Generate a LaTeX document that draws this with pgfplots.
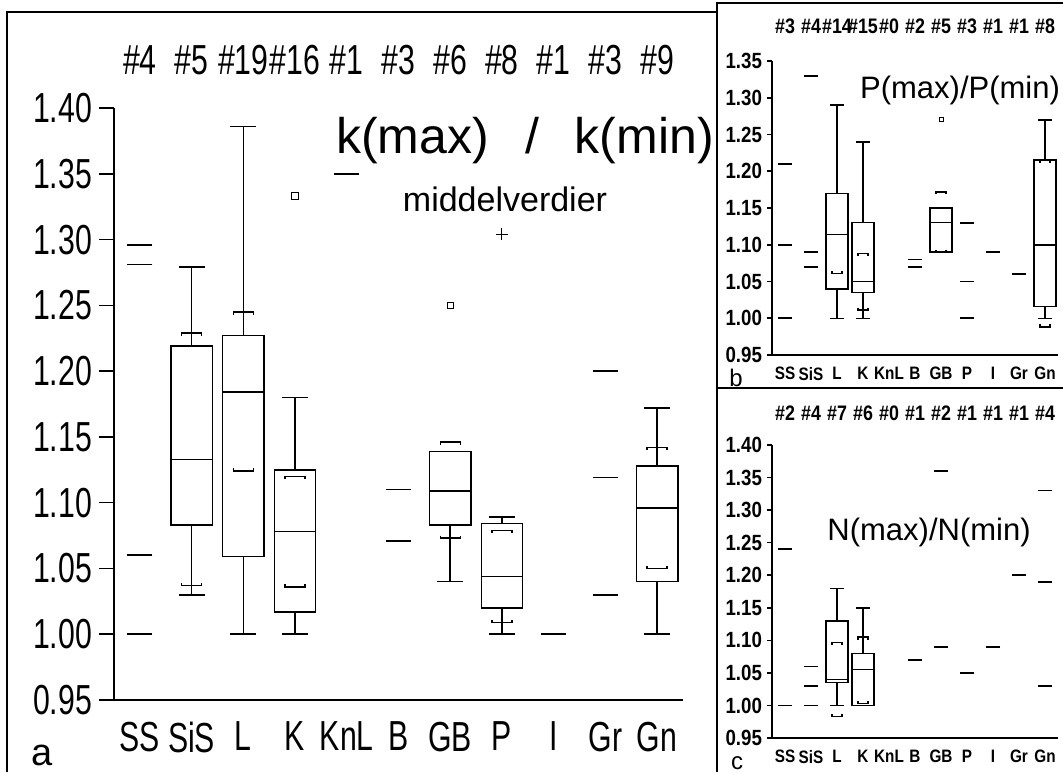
\documentclass[border=0pt]{standalone}
\usepackage{fontspec}
\setmainfont{Liberation Sans}
\newfontfamily\lab{Liberation Sans}[FakeStretch=0.72]
\newfontfamily\labb{Liberation Sans}[FakeStretch=0.85]
\usepackage{pgfplots}
\pgfplotsset{compat=1.18}
\usepgfplotslibrary{statistics}

\pgfdeclareplotmark{bup}{%
  \pgfpathmoveto{\pgfqpoint{-\pgfplotmarksize}{-1.3pt}}%
  \pgfpathlineto{\pgfqpoint{-\pgfplotmarksize}{0pt}}%
  \pgfpathlineto{\pgfqpoint{\pgfplotmarksize}{0pt}}%
  \pgfpathlineto{\pgfqpoint{\pgfplotmarksize}{-1.3pt}}%
  \pgfusepathqstroke}
\pgfdeclareplotmark{bdn}{%
  \pgfpathmoveto{\pgfqpoint{-\pgfplotmarksize}{1.3pt}}%
  \pgfpathlineto{\pgfqpoint{-\pgfplotmarksize}{0pt}}%
  \pgfpathlineto{\pgfqpoint{\pgfplotmarksize}{0pt}}%
  \pgfpathlineto{\pgfqpoint{\pgfplotmarksize}{1.3pt}}%
  \pgfusepathqstroke}

\pgfplotsset{
  panel/.style={
    scale only axis,
    axis x line=bottom, axis y line=left,
    axis line style={-, line width=0.8pt, black},
    tick style={black, line width=0.8pt},
    xmin=-0.5, xmax=10.5,
    xtick={0,1,2,3,4,5,6,7,8,9,10},
    xticklabels={SS,SiS,L,K,KnL,B,GB,P,I,Gr,Gn},
    xtick style={draw=none},
    tick align=outside,
    clip=false,
    yticklabel style={/pgf/number format/fixed, /pgf/number format/fixed zerofill, /pgf/number format/precision=2},
    /pgf/number format/assume math mode=true,
    boxplot/draw direction=y,
  },
  bx/.style={black, line width=0.75pt, solid, mark=none},
  valdash/.style={only marks, mark=-, mark size=#1, black, line width=0.8pt},
  brk/.style={only marks, mark=#1, black, line width=0.7pt},
}

\begin{document}
\begin{tikzpicture}
\useasboundingbox (0,0) rectangle (531.5pt,386pt);
\fill[white] (0,0) rectangle (531.5pt,386pt);

% frames
\draw[line width=0.8pt] (3.5pt,0) -- (3.5pt,380pt) -- (358.5pt,380pt);
\draw[line width=0.8pt] (358.5pt,0) -- (358.5pt,384.5pt) -- (531.5pt,384.5pt);
\draw[line width=0.8pt] (358.5pt,192pt) -- (531.5pt,192pt);

% ---------------- panel a ----------------
\begin{axis}[panel, at={(57pt,36pt)}, anchor=south west,
  width=284.5pt, height=296pt,
  ymin=0.95, ymax=1.40,
  ytick={0.95,1,1.05,1.1,1.15,1.2,1.25,1.3,1.35,1.4},
  major tick length=7.5pt,
  tick label style={font=\lab\fontsize{21}{24}\selectfont},
  boxplot/box extend=0.8, boxplot/whisker extend=0.5]
\addplot[bx, boxplot prepared={draw position=1, lower whisker=1.030, lower quartile=1.083, median=1.133, upper quartile=1.219, upper whisker=1.279}] coordinates {};
\addplot[bx, boxplot prepared={draw position=2, lower whisker=1.000, lower quartile=1.059, median=1.184, upper quartile=1.227, upper whisker=1.386}] coordinates {};
\addplot[bx, boxplot prepared={draw position=3, lower whisker=1.000, lower quartile=1.017, median=1.078, upper quartile=1.125, upper whisker=1.180}] coordinates {};
\addplot[bx, boxplot prepared={draw position=6, lower whisker=1.040, lower quartile=1.083, median=1.109, upper quartile=1.139, upper whisker=1.139}] coordinates {};
\addplot[bx, boxplot prepared={draw position=7, lower whisker=1.000, lower quartile=1.020, median=1.044, upper quartile=1.084, upper whisker=1.089}] coordinates {};
\addplot[bx, boxplot prepared={draw position=10, lower whisker=1.000, lower quartile=1.040, median=1.096, upper quartile=1.128, upper whisker=1.172}] coordinates {};
\addplot[valdash=6.25pt] coordinates {(0,1.296)(0,1.281)(0,1.06)(0,1.00)(4,1.35)(5,1.11)(5,1.071)(8,1.00)(9,1.20)(9,1.119)(9,1.03)};
\addplot[brk=bup, mark size=5pt] coordinates {(1,1.229)(2,1.245)(3,1.120)(6,1.146)(7,1.079)(10,1.142)};
\addplot[brk=bdn, mark size=5pt] coordinates {(1,1.037)(2,1.124)(3,1.036)(6,1.073)(7,1.009)(10,1.050)};
\addplot[only marks, mark=square, mark size=1.6pt, black, line width=0.5pt] coordinates {(3,1.333)(6,1.25)};
\addplot[only marks, mark=+, mark size=3pt, black, line width=0.5pt] coordinates {(7,1.304)};
\begin{scope}[every node/.style={font=\lab\fontsize{21}{24}\selectfont}]
\node at (axis cs:0,1.4365) {\#4};
\node at (axis cs:1,1.4365) {\#5};
\node at (axis cs:2,1.4365) {\#19};
\node at (axis cs:3,1.4365) {\#16};
\node at (axis cs:4,1.4365) {\#1};
\node at (axis cs:5,1.4365) {\#3};
\node at (axis cs:6,1.4365) {\#6};
\node at (axis cs:7,1.4365) {\#8};
\node at (axis cs:8,1.4365) {\#1};
\node at (axis cs:9,1.4365) {\#3};
\node at (axis cs:10,1.4365) {\#9};
\end{scope}
\end{axis}

\node[anchor=base, font=\fontsize{25}{28}\selectfont] at (262.5pt,309.3pt) {k(max)\hspace{18pt}/\hspace{18pt}k(min)};
\node[anchor=base, font=\fontsize{17}{20}\selectfont] at (252.5pt,280.2pt) {middelverdier};
\node[anchor=base, font=\fontsize{19}{22}\selectfont] at (21pt,3.5pt) {a};

% ---------------- panel b ----------------
\begin{axis}[panel, at={(386pt,208.5pt)}, anchor=south west,
  width=143pt, height=147pt,
  ymin=0.95, ymax=1.35,
  ytick={0.95,1,1.05,1.1,1.15,1.2,1.25,1.3,1.35},
  major tick length=2.5pt,
  yticklabel style={font=\labb\bfseries\fontsize{11}{12}\selectfont, xshift=1pt},
  xticklabel style={font=\labb\bfseries\fontsize{9}{10}\selectfont, yshift=0pt},
  boxplot/box extend=0.83, boxplot/whisker extend=0.53]
\addplot[bx, boxplot prepared={draw position=2, lower whisker=1.000, lower quartile=1.040, median=1.114, upper quartile=1.170, upper whisker=1.290}] coordinates {};
\addplot[bx, boxplot prepared={draw position=3, lower whisker=1.000, lower quartile=1.035, median=1.050, upper quartile=1.130, upper whisker=1.240}] coordinates {};
\addplot[bx, boxplot prepared={draw position=6, lower whisker=1.090, lower quartile=1.090, median=1.130, upper quartile=1.150, upper whisker=1.150}] coordinates {};
\addplot[bx, boxplot prepared={draw position=10, lower whisker=1.000, lower quartile=1.016, median=1.100, upper quartile=1.215, upper whisker=1.270}] coordinates {};
\addplot[valdash=3.5pt] coordinates {(0,1.21)(0,1.10)(0,1.00)(1,1.33)(1,1.09)(1,1.07)(5,1.08)(5,1.07)(7,1.13)(7,1.05)(7,1.00)(8,1.09)(9,1.06)};
\addplot[brk=bup, mark size=2.5pt] coordinates {(3,1.088)(6,1.172)(10,1.215)};
\addplot[brk=bdn, mark size=2.5pt] coordinates {(2,1.061)(3,1.011)(6,1.09)(10,0.988)};
\addplot[only marks, mark=square, mark size=1pt, black, line width=0.5pt] coordinates {(6,1.27)};
\begin{scope}[every node/.style={font=\labb\bfseries\fontsize{10.5}{12}\selectfont}]
\node at (axis cs:0,1.3976) {\#3};
\node at (axis cs:1,1.3976) {\#4};
\node at (axis cs:2,1.3976) {\#14};
\node at (axis cs:3,1.3976) {\#15};
\node at (axis cs:4,1.3976) {\#0};
\node at (axis cs:5,1.3976) {\#2};
\node at (axis cs:6,1.3976) {\#5};
\node at (axis cs:7,1.3976) {\#3};
\node at (axis cs:8,1.3976) {\#1};
\node at (axis cs:9,1.3976) {\#1};
\node at (axis cs:10,1.3976) {\#8};
\end{scope}
\end{axis}
\node[anchor=base, font=\fontsize{15.5}{18}\selectfont] at (480pt,336.8pt) {P(max)/P(min)};
\node[anchor=base, font=\fontsize{12}{14}\selectfont] at (368pt,192.8pt) {b};

% ---------------- panel c ----------------
\begin{axis}[panel, at={(386pt,17pt)}, anchor=south west,
  width=143pt, height=146.5pt,
  ymin=0.95, ymax=1.40,
  ytick={0.95,1,1.05,1.1,1.15,1.2,1.25,1.3,1.35,1.4},
  major tick length=2.5pt,
  yticklabel style={font=\labb\bfseries\fontsize{11}{12}\selectfont, xshift=1pt},
  xticklabel style={font=\labb\bfseries\fontsize{9}{10}\selectfont, yshift=0pt},
  boxplot/box extend=0.83, boxplot/whisker extend=0.53]
\addplot[bx, boxplot prepared={draw position=2, lower whisker=1.000, lower quartile=1.035, median=1.040, upper quartile=1.130, upper whisker=1.180}] coordinates {};
\addplot[bx, boxplot prepared={draw position=3, lower whisker=1.000, lower quartile=1.000, median=1.055, upper quartile=1.080, upper whisker=1.150}] coordinates {};
\addplot[valdash=3.5pt] coordinates {(0,1.24)(0,1.00)(1,1.06)(1,1.03)(1,1.00)(5,1.07)(6,1.36)(6,1.09)(7,1.05)(8,1.09)(9,1.20)(10,1.33)(10,1.19)(10,1.03)};
\addplot[brk=bup, mark size=2.5pt] coordinates {(2,1.097)(3,1.105)};
\addplot[brk=bdn, mark size=2.5pt] coordinates {(2,0.983)(3,1.003)};
\begin{scope}[every node/.style={font=\labb\bfseries\fontsize{10.5}{12}\selectfont}]
\node at (axis cs:0,1.449) {\#2};
\node at (axis cs:1,1.449) {\#4};
\node at (axis cs:2,1.449) {\#7};
\node at (axis cs:3,1.449) {\#6};
\node at (axis cs:4,1.449) {\#0};
\node at (axis cs:5,1.449) {\#1};
\node at (axis cs:6,1.449) {\#2};
\node at (axis cs:7,1.449) {\#1};
\node at (axis cs:8,1.449) {\#1};
\node at (axis cs:9,1.449) {\#1};
\node at (axis cs:10,1.449) {\#4};
\end{scope}
\end{axis}
\node[anchor=base, font=\fontsize{15.5}{18}\selectfont] at (464.5pt,116pt) {N(max)/N(min)};
\node[anchor=base, font=\fontsize{12}{14}\selectfont] at (368.5pt,1.2pt) {c};
\end{tikzpicture}
\end{document}
